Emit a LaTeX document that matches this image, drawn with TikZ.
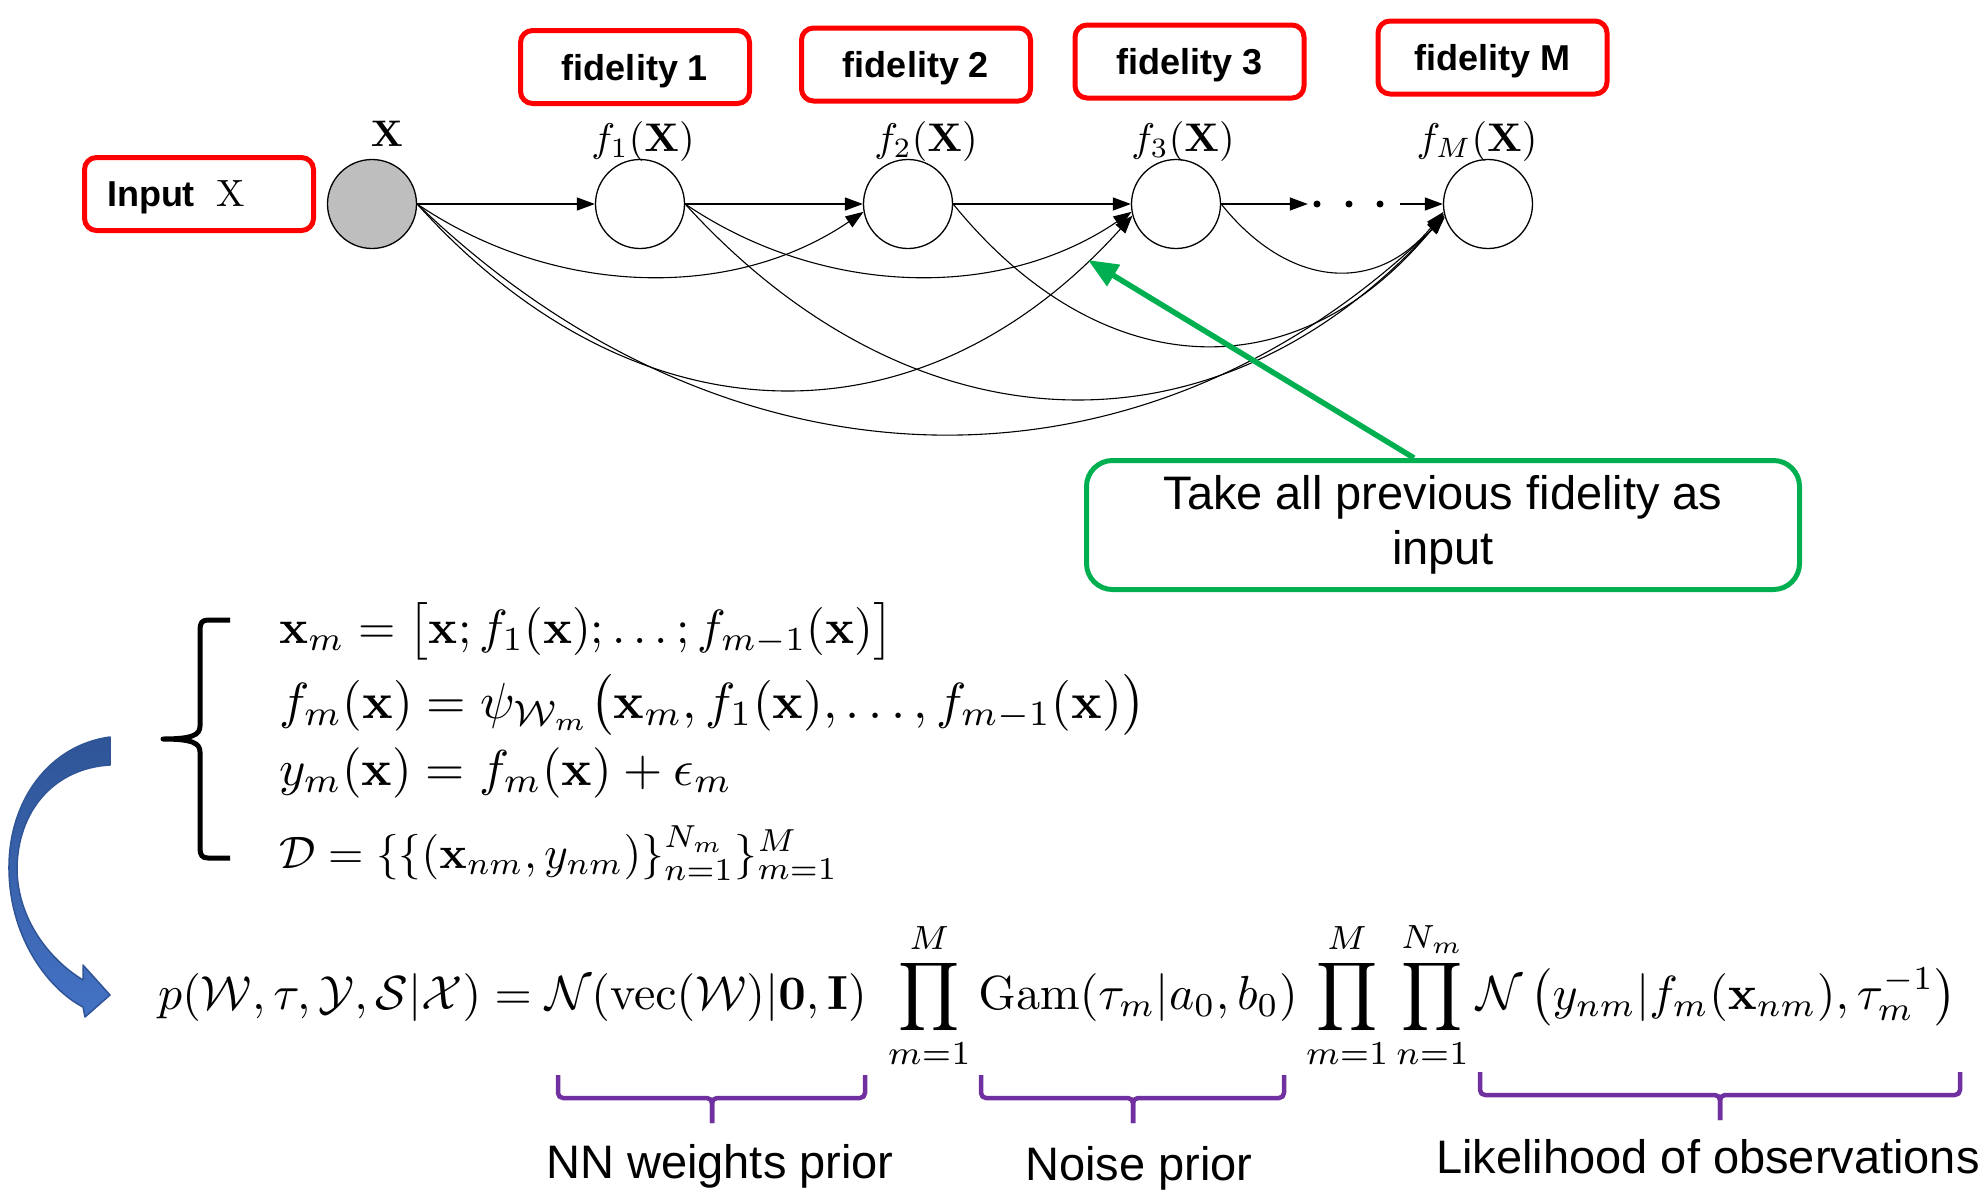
\documentclass[tikz,border=0pt]{standalone}
\usepackage{amsmath}
\usepackage{graphicx}
\usepackage[no-math]{fontspec}
\newfontfamily\sff{Liberation Sans}
\usetikzlibrary{arrows.meta,calc}
\definecolor{boxred}{RGB}{255,0,0}
\definecolor{calloutgreen}{RGB}{0,176,80}
\definecolor{bracepurple}{RGB}{112,48,160}
\definecolor{arrowblueA}{RGB}{47,85,151}
\definecolor{arrowblueB}{RGB}{68,114,196}
\definecolor{nodegray}{RGB}{190,190,190}
\begin{document}
\begin{tikzpicture}[x=1pt,y=-1pt,line join=round,
  fidbox/.style={draw=boxred, line width=5pt, rounded corners=12pt, minimum width=229pt, minimum height=73pt, inner sep=0pt, text depth=0pt, font=\sff\bfseries\fontsize{36}{40}\selectfont},
  unit/.style={circle, draw=black, line width=1.3pt, minimum size=89pt, inner sep=0pt},
  arr/.style={line width=1.3pt, -{Triangle[length=18pt,width=13pt]}},
  curve/.style={line width=1.1pt, -{Triangle[length=18pt,width=13pt]}},
  lbl/.style={anchor=base, inner sep=0pt},
  callout/.style={draw=calloutgreen, line width=5pt, rounded corners=26pt, minimum width=713pt, minimum height=129pt, inner sep=0pt, align=center, font=\sff\fontsize{47}{55}\selectfont},
  garrow/.style={draw=calloutgreen, line width=5.5pt, -{Triangle[length=30pt,width=24pt]}},
  brace/.style={draw=bracepurple, line width=4.5pt, rounded corners=5pt},
  caption/.style={anchor=base, inner sep=0pt, font=\sff\fontsize{47}{55}\selectfont},
  eq/.style={anchor=base west, inner sep=0pt}]
\useasboundingbox (0,0) rectangle (1985,1189);

% ---- graph nodes
\node[unit, fill=nodegray] (x0) at (372,204) {};
\node[unit] (f1) at (640,204) {};
\node[unit] (f2) at (908,204) {};
\node[unit] (f3) at (1176,204) {};
\node[unit] (fM) at (1488,204) {};
\node[inner sep=0pt, minimum width=92pt, minimum height=10pt] (dots) at (1354,204) {};
\fill ($(dots.center)+(-37,0)$) circle (3.5pt);
\fill ($(dots.center)+(-5,0)$) circle (3.5pt);
\fill ($(dots.center)+(26,0)$) circle (3.5pt);

% ---- labels over nodes
\node[lbl] (lx0) at (387,146) {\scalebox{3.7}{$\mathbf{X}$}};
\node[lbl] (lf1) at (643,151) {\scalebox{4}{$f_1(\mathbf{X})$}};
\node[lbl] (lf2) at (926,151) {\scalebox{4}{$f_2(\mathbf{X})$}};
\node[lbl] (lf3) at (1183,151) {\scalebox{4}{$f_3(\mathbf{X})$}};
\node[lbl] (lfM) at (1477,151) {\scalebox{4}{$f_M(\mathbf{X})$}};

% ---- red boxes
\node[fidbox] (inbox) at (199,194) {\makebox[229pt][l]{\hspace{22.5pt}Input\hspace{22pt}\scalebox{3.8}{\normalfont\fontsize{10}{12}\selectfont X}}};
\node[fidbox] (fid1) at (635,67) {fidelity 1};
\node[fidbox] (fid2) at (916,64.5) {fidelity 2};
\node[fidbox] (fid3) at (1189.5,61.5) {fidelity 3};
\node[fidbox] (fidM) at (1492.5,57.5) {fidelity M};

% ---- straight connectors
\draw[arr] (x0) -- (f1);
\draw[arr] (f1) -- (f2);
\draw[arr] (f2) -- (f3);
\draw[arr] (f3) -- (dots.west);
\draw[arr] (dots.east) -- (fM);

% ---- curved connectors
\draw[curve] (x0.east) .. controls +(134,91) and +(-134,91) .. (f2.190);
\draw[curve] (f1.east) .. controls +(134,91) and +(-134,91) .. (f3.190);
\draw[curve] (f3.east) .. controls +(67,84) and +(-67,84) .. (fM.190);
\draw[curve] (x0.east) .. controls +(215,239) and +(-215,239) .. (f3.195);
\draw[curve] (f1.east) .. controls +(228,251) and +(-228,251) .. (fM.195);
\draw[curve] (f2.east) .. controls +(147,181) and +(-147,181) .. (fM.193);
\draw[curve] (x0.east) .. controls +(308,297) and +(-308,297) .. (fM.197);

% ---- green callout
\node[callout] (gbox) at (1443,525) {Take all previous fidelity as\\input};
\coordinate (gtip) at (1088,260);
\draw[garrow] ($(gbox.north)+(-29,0)$) -- (gtip);

% ---- equations
\node[eq] (e1) at (279,643) {\resizebox{614pt}{!}{$\mathbf{x}_m = \big[\mathbf{x}; f_1(\mathbf{x}); \ldots; f_{m-1}(\mathbf{x})\big]$}};
\node[eq] (e2) at (279,718) {\resizebox{866pt}{!}{$f_m(\mathbf{x}) = \psi_{\mathcal{W}_m}\big(\mathbf{x}_m, f_1(\mathbf{x}), \ldots, f_{m-1}(\mathbf{x})\big)$}};
\node[eq] (e3) at (279,785) {\resizebox{453pt}{!}{$y_m(\mathbf{x}) = f_m(\mathbf{x}) + \epsilon_m$}};
\node[eq] (e4) at (279,868) {\resizebox{559pt}{!}{$\mathcal{D} = \{\{(\mathbf{x}_{nm}, y_{nm})\}_{n=1}^{N_m}\}_{m=1}^{M}$}};

% ---- left brace
\draw[line width=5pt] (230,620) -- (208,620) .. controls (202,620) and (200,623) .. (200,630) -- (200,726) .. controls (200,735) and (192,739) .. (163,739) .. controls (192,739) and (200,743) .. (200,752) -- (200,848) .. controls (200,855) and (202,858) .. (208,858) -- (230,858);

% ---- blue curved arrow
\path[top color=arrowblueA, bottom color=arrowblueB, draw=arrowblueA, line width=1.5pt]
  (110,737) .. controls (50,745) and (8,800) .. (9,870)
  .. controls (10,940) and (50,990) .. (83,1007) -- (85,1017) -- (110,995) -- (83,965) -- (83,980)
  .. controls (50,960) and (18,920) .. (17,870)
  .. controls (17,810) and (55,768) .. (110,765) -- cycle;

% ---- bottom equation
\node[eq] (e5) at (158,1009) {\resizebox{1798pt}{!}{$\displaystyle p(\mathcal{W},\tau,\mathcal{Y},\mathcal{S}|\mathcal{X}) = \mathcal{N}(\mathrm{vec}(\mathcal{W})|\mathbf{0},\mathbf{I})\;\prod_{m=1}^{M}\mathrm{Gam}(\tau_m|a_0,b_0)\prod_{m=1}^{M}\prod_{n=1}^{N_m}\mathcal{N}\left(y_{nm}|f_m(\mathbf{x}_{nm}),\tau_m^{-1}\right)$}};

% ---- purple braces
\draw[brace] (558,1075) |- (712,1098) -- (712,1123);
\draw[brace] (712,1123) -- (712,1098) -| (865,1075);
\draw[brace] (981,1075) |- (1133,1098) -- (1133,1123);
\draw[brace] (1133,1123) -- (1133,1098) -| (1284,1075);
\draw[brace] (1480,1072) |- (1720,1095) -- (1720,1120);
\draw[brace] (1720,1120) -- (1720,1095) -| (1960,1072);

% ---- captions
\node[caption] (c1) at (720,1178) {NN weights prior};
\node[caption] (c2) at (1139,1180) {Noise prior};
\node[caption] (c3) at (1708,1173) {Likelihood of observations};
\end{tikzpicture}
\end{document}
